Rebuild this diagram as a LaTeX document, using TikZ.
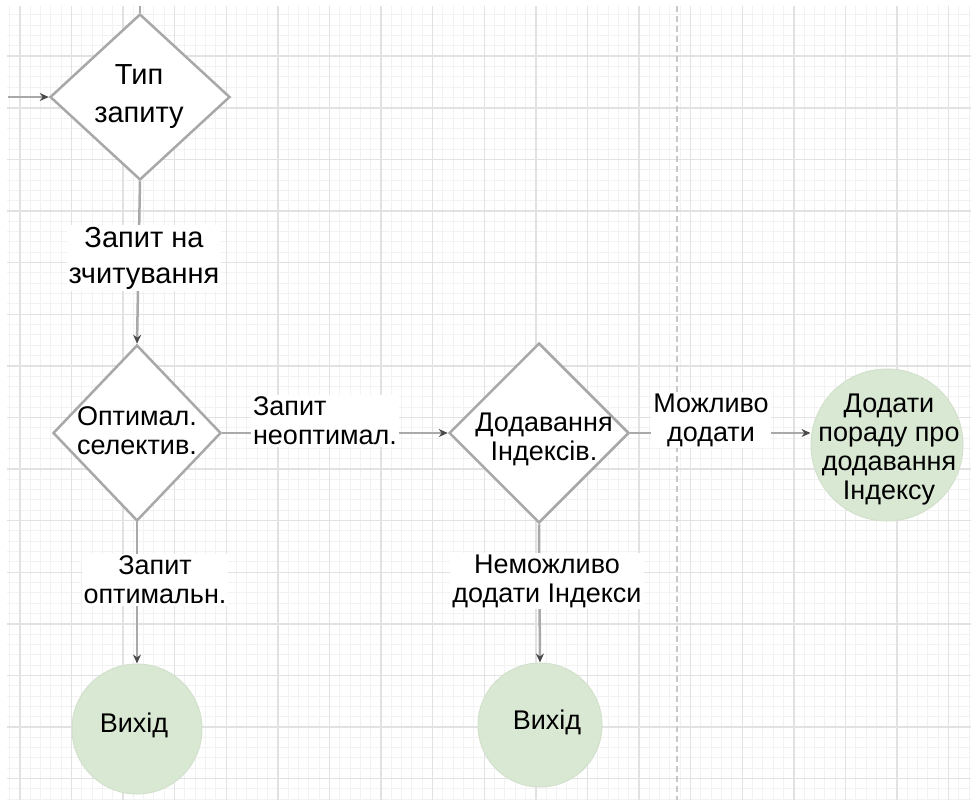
\documentclass[tikz,border=0pt]{standalone}
\usepackage{fontspec}
\setmainfont{Liberation Sans}
\usetikzlibrary{shapes.geometric,arrows.meta}
\definecolor{gridminor}{HTML}{F2F2F2}
\definecolor{gridmajor}{HTML}{E2E2E2}
\definecolor{shapeline}{HTML}{A8A8A8}
\definecolor{edgeline}{HTML}{A9A9A9}
\definecolor{tipcol}{HTML}{4A4A4A}
\definecolor{greenfill}{HTML}{D9E8D3}
\definecolor{pagebreak}{HTML}{C8C8C8}
\begin{document}
\begin{tikzpicture}[x=1pt,y=-1pt,
  dia/.style={diamond, draw=shapeline, line width=2.5pt, fill=white, inner sep=0pt},
  endc/.style={circle, fill=greenfill, draw=greenfill!92!gray, line width=1pt, inner sep=0pt},
  txt/.style={font=\fontsize{27}{29}\selectfont, align=center, inner sep=0pt, text=black},
  elbl/.style={txt, fill=white, inner sep=2pt},
  conn/.style={draw=edgeline, line width=2.5pt, -{Stealth[length=9pt,width=8pt,color=tipcol]}},
  plainline/.style={draw=edgeline, line width=2.5pt},
]
\useasboundingbox (0,0) rectangle (971,800);
\fill[white] (0,0) rectangle (971,800);
% grid
\foreach \i in {0,...,93} \draw[gridminor, line width=1pt] ({9.48+10.32*\i},6) -- ({9.48+10.32*\i},800);
\foreach \j in {1,...,77} \draw[gridminor, line width=1pt] (7,{4.6+10.32*\j}) -- (971,{4.6+10.32*\j});
\foreach \k in {0,...,18} \draw[gridmajor, line width=1.4pt] ({19.8+51.6*\k},6) -- ({19.8+51.6*\k},800);
\foreach \k in {1,...,15} \draw[gridmajor, line width=1.4pt] (7,{4.6+51.6*\k}) -- (971,{4.6+51.6*\k});
\draw[pagebreak, line width=1.5pt, dash pattern=on 6pt off 4pt] (677,6) -- (677,800);

% shapes
\node[dia, minimum width=180, minimum height=166] (d1) at (140,97) {};
\node[dia, minimum width=168, minimum height=176] (d2) at (137,433) {};
\node[dia, minimum width=180, minimum height=180] (d3) at (539,433) {};
\node[endc, minimum size=130] (c1) at (137,729) {};
\node[endc, minimum size=124] (c2) at (540,725) {};
\node[endc, minimum size=152] (c3) at (887,445) {};

% connectors
\coordinate (topin) at (140,6);
\coordinate (leftin) at (8,97);
\draw[plainline] (topin) -- (d1.north);
\draw[conn] (leftin) -- (d1.west);
\draw[conn] (d1.south) -- (d2.north);
\draw[conn] (d2.east) -- (d3.west);
\draw[conn] (d3.east) -- (d3.east -| c3.west);
\draw[conn] (d2.south) -- (c1.north);
\draw[conn] (d3.south) -- (c2.north);

% texts in shapes
\node[txt, font=\fontsize{29}{38}\selectfont] (t1) at (139,97) {Тип\\запиту};
\node[txt] (t2) at (137,431) {Оптимал.\\селектив.};
\node[txt] (t3) at (544,439) {Додавання\\Індексів.};
\node[txt] (t4) at (889,450) {Додати\\пораду про\\додавання\\Індексу};
\node[txt] (t5) at (134,725) {Вихід};
\node[txt] (t6) at (547,722) {Вихід};

% connector labels
\node[elbl, font=\fontsize{29}{36}\selectfont] (l1) at (144,258) {Запит на\\зчитування};
\node[elbl, align=left] (l2) at (325,421) {Запит\\неоптимал.};
\node[elbl] (l3) at (711,420) {Можливо\\додати};
\node[elbl] (l4) at (155,580) {Запит\\оптимальн.};
\node[elbl] (l5) at (547,581) {Неможливо\\додати Індекси};
\end{tikzpicture}
\end{document}
